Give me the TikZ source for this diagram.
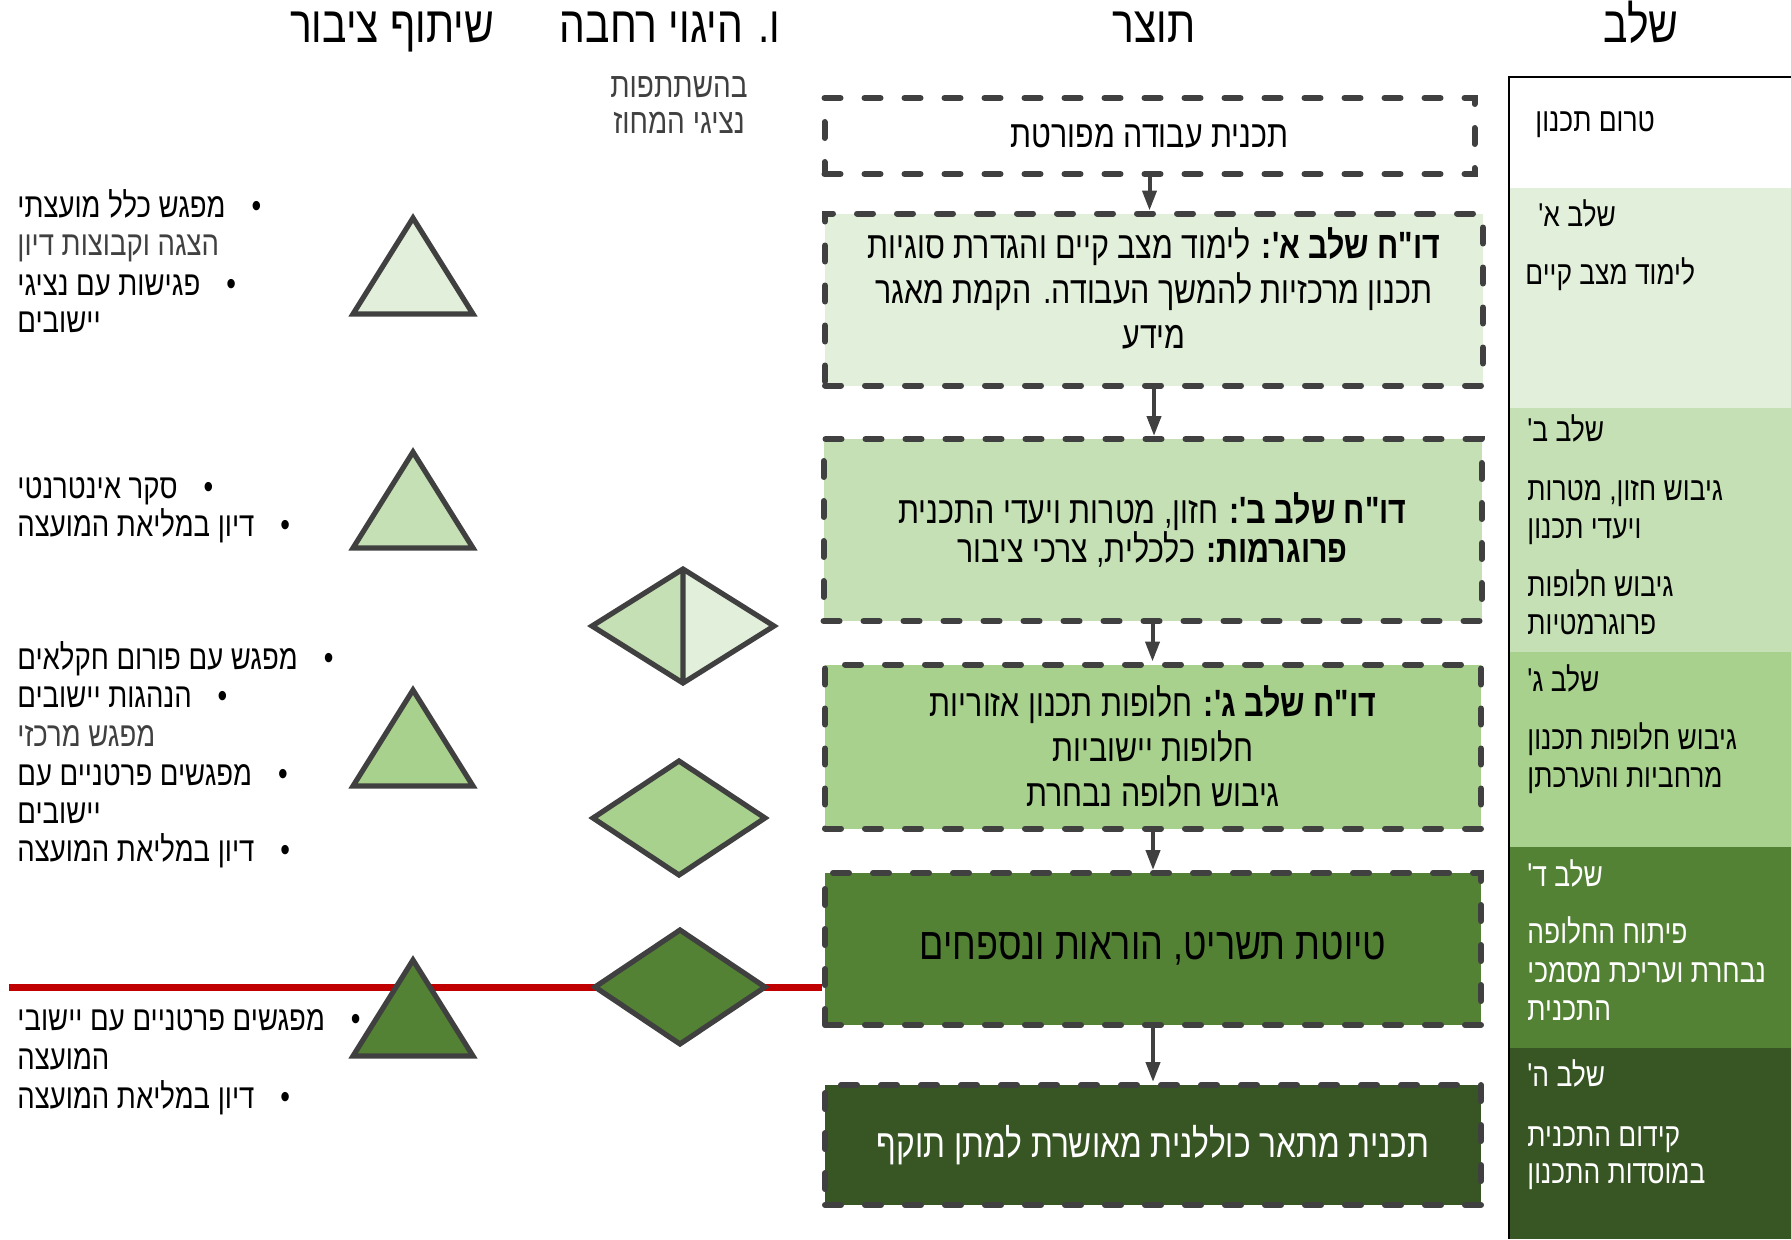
\documentclass[tikz,border=0pt]{standalone}
\usepackage{fontspec}
\usetikzlibrary{arrows.meta, positioning}
\newfontfamily\heb[Script=Hebrew,FakeStretch=0.8]{Liberation Sans}
\TeXXeTstate=1
\definecolor{stA}{HTML}{E2EFDA}
\definecolor{stB}{HTML}{C5E0B4}
\definecolor{stC}{HTML}{A9D18E}
\definecolor{stD}{HTML}{548235}
\definecolor{stE}{HTML}{375623}
\definecolor{edge}{HTML}{404040}
\definecolor{redline}{HTML}{C00000}
\definecolor{subgray}{HTML}{404040}

\begin{document}
\begin{tikzpicture}[x=0.5pt, y=-0.5pt,
    every node/.style={inner sep=0pt, font=\heb\fontsize{16.5}{20}\selectfont},
    head/.style={anchor=base, font=\heb\fontsize{25.5}{30}\selectfont},
    subhead/.style={anchor=base, text=subgray, font=\heb\fontsize{17.5}{20}\selectfont},
    prod/.style={draw=edge, line width=3pt, line cap=round,
        dash pattern=on 8pt off 12pt, align=center},
    prodtxt/.style={align=center, font=\heb\fontsize{19}{22.5}\selectfont},
    flow/.style={draw=edge, line width=2pt, -{Triangle[length=10pt, width=7pt]}},
    shp/.style={draw=edge, line width=2.6pt},
    stagetxt/.style={anchor=base west},
    pubtxt/.style={anchor=base west, font=\heb\fontsize{17.2}{20}\selectfont}]
    \useasboundingbox (0,0) rectangle (1791,1239);

    % stage column
    \fill[stA] (1509,188) rectangle (1791,408);
    \fill[stB] (1509,408) rectangle (1791,652);
    \fill[stC] (1509,652) rectangle (1791,847);
    \fill[stD] (1509,847) rectangle (1791,1048);
    \fill[stE] (1509,1048) rectangle (1791,1239);
    \draw[line width=1pt] (1509,1239) -- (1509,77) -- (1791,77);

    % headers
    \node[head] (hstage) at (1641,42) {\beginR שלב\endR};
    \node[head] (hprod) at (1154,42) {\beginR תוצר\endR};
    \node[head] (hsteer) at (670,42) {\beginR ו. היגוי רחבה\endR};
    \node[head] (hpub) at (392,42) {\beginR שיתוף ציבור\endR};
    \node[subhead] (hsub1) at (679,97) {\beginR בהשתתפות\endR};
    \node[subhead] (hsub2) at (679,133) {\beginR נציגי המחוז\endR};

    % product boxes
    \node[prod, prodtxt, minimum width=325pt, minimum height=38pt] (plan) at (1149.5,136)
        {\beginR תכנית עבודה מפורטת\endR};
    \node[prod, fill=stA, minimum width=329pt, minimum height=86pt] (repA) at (1154,299.5) {};
    \node[prodtxt, yshift=5.5pt] (repAtxt) at (repA.center)
        {\beginR\textbf{דו"ח שלב א':} לימוד מצב קיים והגדרת סוגיות\endR\\
         \beginR תכנון מרכזיות להמשך העבודה. הקמת מאגר\endR\\
         \beginR מידע\endR};
    \node[prod, prodtxt, fill=stB, minimum width=329pt, minimum height=91pt,
        font=\heb\fontsize{19}{19.5}\selectfont] (repB) at (1152.5,530)
        {\beginR\textbf{דו"ח שלב ב':} חזון, מטרות ויעדי התכנית\endR\\
         \beginR\textbf{פרוגרמות:} כלכלית, צרכי ציבור\endR};
    \node[prod, prodtxt, fill=stC, minimum width=328pt, minimum height=82pt] (repC) at (1153,746.5)
        {\beginR\textbf{דו"ח שלב ג':} חלופות תכנון אזוריות\endR\\
         \beginR חלופות יישוביות\endR\\
         \beginR גיבוש חלופה נבחרת\endR};
    \node[prod, fill=stD, minimum width=328pt, minimum height=76pt,
        font=\heb\fontsize{22.5}{26}\selectfont] (draft) at (1153,949)
        {\beginR טיוטת תשריט, הוראות ונספחים\endR};
    \node[prod, fill=stE, text=white, minimum width=328pt, minimum height=60pt,
        font=\heb\fontsize{19.8}{23}\selectfont] (final) at (1153,1145)
        {\beginR תכנית מתאר כוללנית מאושרת למתן תוקף\endR};

    \draw[flow] (plan.south) -- (plan.south |- repA.north);
    \draw[flow] (repA.south) -- (repA.south |- repB.north);
    \draw[flow] (repB.south) -- (repB.south |- repC.north);
    \draw[flow] (repC.south) -- (repC.south |- draft.north);
    \draw[flow] (draft.south) -- (draft.south |- final.north);

    % red line
    \coordinate (redstart) at (9,987);
    \draw[redline, line width=3.5pt] (redstart) -- (redstart -| draft.west);

    % public participation triangles
    \foreach \yy/\col in {218/stA, 452/stB, 690/stC, 960/stD}
        \draw[shp, fill=\col] (413,\yy) -- ++(-60,96) -- ++(120,0) -- cycle;

    % steering diamonds
    \fill[stB] (592,626) -- (683,569) -- (683,683) -- cycle;
    \fill[stA] (683,569) -- (774,626) -- (683,683) -- cycle;
    \draw[shp] (592,626) -- (683,569) -- (774,626) -- (683,683) -- cycle
        (683,569) -- (683,683);
    \draw[shp, fill=stC] (593,818) -- (679,761) -- (765,818) -- (679,875) -- cycle;
    \draw[shp, fill=stD] (595,987) -- (680,930) -- (765,987) -- (680,1044) -- cycle;

    % stage texts
    \foreach \xx/\yy/\col/\txt [count=\i] in {
        1535/131/black/טרום תכנון,
        1538/226/black/שלב א',
        1525/284/black/לימוד מצב קיים,
        1527/441/black/שלב ב',
        1527/500/black/{גיבוש חזון, מטרות},
        1527/538/black/ויעדי תכנון,
        1527/596/black/גיבוש חלופות,
        1527/634/black/פרוגרמטיות,
        1527/691/black/שלב ג',
        1527/749/black/גיבוש חלופות תכנון,
        1527/787/black/מרחביות  והערכתן,
        1527/886/white/שלב ד',
        1527/943/white/פיתוח החלופה,
        1527/982/white/נבחרת ועריכת מסמכי,
        1527/1020/white/התכנית,
        1527/1086/white/שלב ה',
        1527/1146/white/קידום התכנית,
        1527/1183/white/במוסדות התכנון}
        \node[stagetxt, text=\col] (st\i) at (\xx,\yy) {\beginR\txt\endR};

    % public participation texts
    \foreach \yy/\col/\txt [count=\i] in {
        217/black/{\textbullet\hspace{13pt}מפגש כלל מועצתי},
        255/subgray/הצגה וקבוצות דיון,
        295/black/{\textbullet\hspace{13pt}פגישות עם נציגי},
        332/black/יישובים,
        498/black/{\textbullet\hspace{13pt}סקר אינטרנטי},
        536/black/{\textbullet\hspace{13pt}דיון במליאת המועצה},
        669/black/{\textbullet\hspace{13pt}מפגש עם פורום חקלאים},
        707/black/{\textbullet\hspace{13pt}הנהגות יישובים},
        746/subgray/מפגש מרכזי,
        785/black/{\textbullet\hspace{13pt}מפגשים פרטניים עם},
        823/black/יישובים,
        861/black/{\textbullet\hspace{13pt}דיון במליאת המועצה},
        1030/black/{\textbullet\hspace{13pt}מפגשים פרטניים עם יישובי},
        1069/black/המועצה,
        1108/black/{\textbullet\hspace{13pt}דיון במליאת המועצה}}
        \node[pubtxt, text=\col] (pub\i) at (17,\yy) {\beginR\txt\endR};
\end{tikzpicture}
\end{document}
